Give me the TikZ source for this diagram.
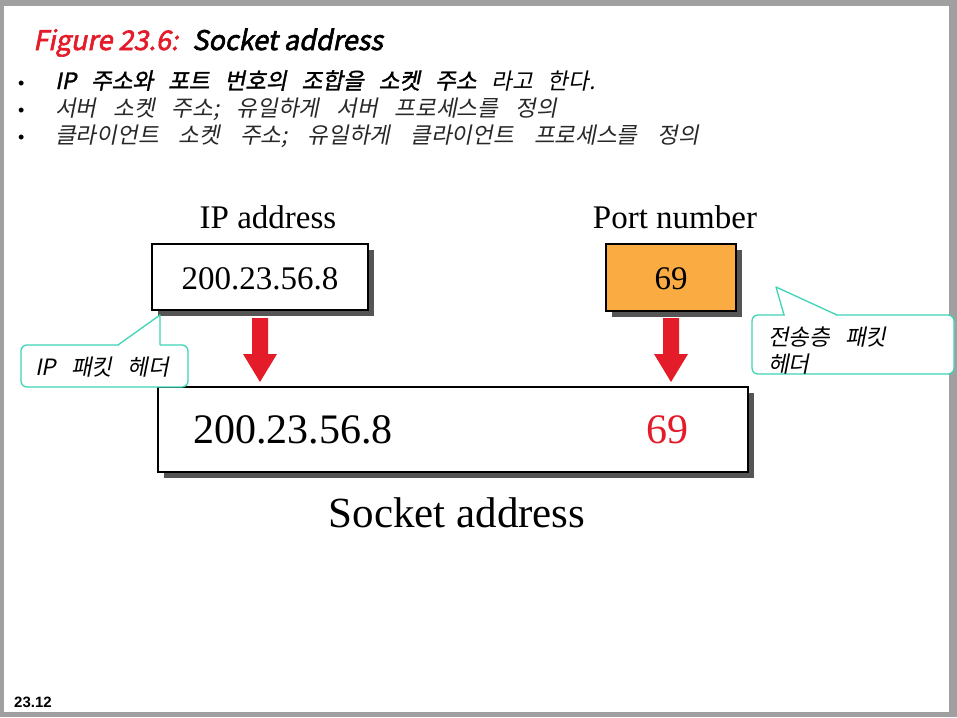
\documentclass[tikz,border=0pt]{standalone}
\usepackage{fontspec}
\setmainfont{Liberation Serif}
\newfontfamily\kr[AutoFakeSlant=0.2,AutoFakeBold=1.5]{Noto Sans CJK KR}
\newfontfamily\krtitle[FakeSlant=0.2,FakeBold=2.2]{Noto Sans CJK KR}
\newfontfamily\arialf{Liberation Sans}
\newcommand\krwide{\spaceskip=15pt\relax}
\usetikzlibrary{arrows.meta}
\definecolor{frameg}{RGB}{160,160,160}
\definecolor{boxorange}{RGB}{250,172,66}
\definecolor{sred}{RGB}{228,28,42}
\definecolor{teal}{RGB}{62,212,182}
\definecolor{shadowg}{RGB}{85,85,85}
\definecolor{bulletg}{RGB}{40,40,40}
\tikzset{
  shad/.style={fill=shadowg},
  serif/.style={font=\fontsize{33}{38}\selectfont,inner sep=0pt},
  bigserif/.style={font=\fontsize{42}{48}\selectfont,inner sep=0pt},
  callout/.style={draw=teal,line width=1.3pt,fill=white,rounded corners=6pt},
  krtext/.style={font=\kr\fontsize{22.5}{26}\selectfont\itshape,execute at begin node=\krwide,inner sep=0pt,anchor=base west,text=bulletg},
  redarrow/.style={fill=sred}
}
\begin{document}
\begin{tikzpicture}[x=1pt,y=-1pt]
\useasboundingbox (0,0) rectangle (957,717);
\fill[frameg] (0,0) rectangle (957,717);
\fill[white] (4,6) rectangle (949,712);
% title
\node[anchor=base west,inner sep=0pt,font=\krtitle\fontsize{27}{30}\selectfont] (title) at (33,50)
  {\textcolor{sred}{Figure 23.6:}\hspace{14pt}Socket address};
% bullets
\foreach \y/\n in {89/b1,116/b2,143/b3}{
  \node[anchor=base west,inner sep=0pt,font=\arialf\fontsize{18}{20}\selectfont] (\n) at (18,\y) {•};
}
\node[krtext,text=black] (t1) at (55,89) {\bfseries IP 주소와 포트 번호의 조합을 소켓 주소 \mdseries 라고 한다.};
\node[krtext] (t2) at (55,116) {\spaceskip=17pt\relax 서버 소켓 주소; 유일하게 서버 프로세스를 정의};
\node[krtext] (t3) at (55,143) {\spaceskip=20pt\relax 클라이언트 소켓 주소; 유일하게 클라이언트 프로세스를 정의};
% labels
\node[serif,anchor=base] (iplabel) at (268,228) {IP address};
\node[serif,anchor=base] (portlabel) at (675,228) {Port number};
% IP box
\fill[shad] (158,250) rectangle (374,316);
\draw[line width=1.3pt,fill=white] (152,244) rectangle (368,310);
\node[serif] (ipbox) at (260,279) {200.23.56.8};
% Port box
\fill[shad] (612,250) rectangle (742,317);
\draw[line width=1.3pt,fill=boxorange] (606,244) rectangle (736,311);
\node[serif] (portbox) at (671,279) {69};
% socket box
\fill[shad] (164,393) rectangle (754,478);
\draw[line width=1.3pt,fill=white] (158,387) rectangle (748,472);
\node[bigserif,anchor=base west] (sockip) at (193,443) {200.23.56.8};
\node[bigserif,anchor=base,text=sred] (sockport) at (667,443) {69};
\node[font=\fontsize{43}{50}\selectfont,inner sep=0pt,anchor=base] (socklabel) at (457,527) {Socket address};
% arrows
\foreach \cx in {260,671}{
  \fill[redarrow] (\cx-8,318) -- (\cx+8,318) -- (\cx+8,354) -- (\cx+17,354) -- (\cx,382) -- (\cx-17,354) -- (\cx-8,354) -- cycle;
}
% callout 1
\draw[callout] (21,345) rectangle (188,387);
\fill[white] (119,343) rectangle (160,347);
\draw[teal,line width=1.3pt,line join=round] (118,345) -- (160,315) -- (160,345);
\node[krtext,text=black] (c1) at (35,375) {IP 패킷 헤더};
% callout 2
\draw[callout] (752,315) rectangle (954,374);
\fill[white] (785,313) rectangle (836,317);
\draw[teal,line width=1.3pt,line join=round] (784,315) -- (776,287) -- (837,315);
\node[krtext,text=black] (c2a) at (768,345) {전송층 패킷};
\node[krtext,text=black] (c2b) at (768,372) {헤더};
% page number
\node[anchor=base west,inner sep=0pt,font=\arialf\bfseries\fontsize{15}{18}\selectfont] (pg) at (14,707) {23.12};
\end{tikzpicture}
\end{document}
